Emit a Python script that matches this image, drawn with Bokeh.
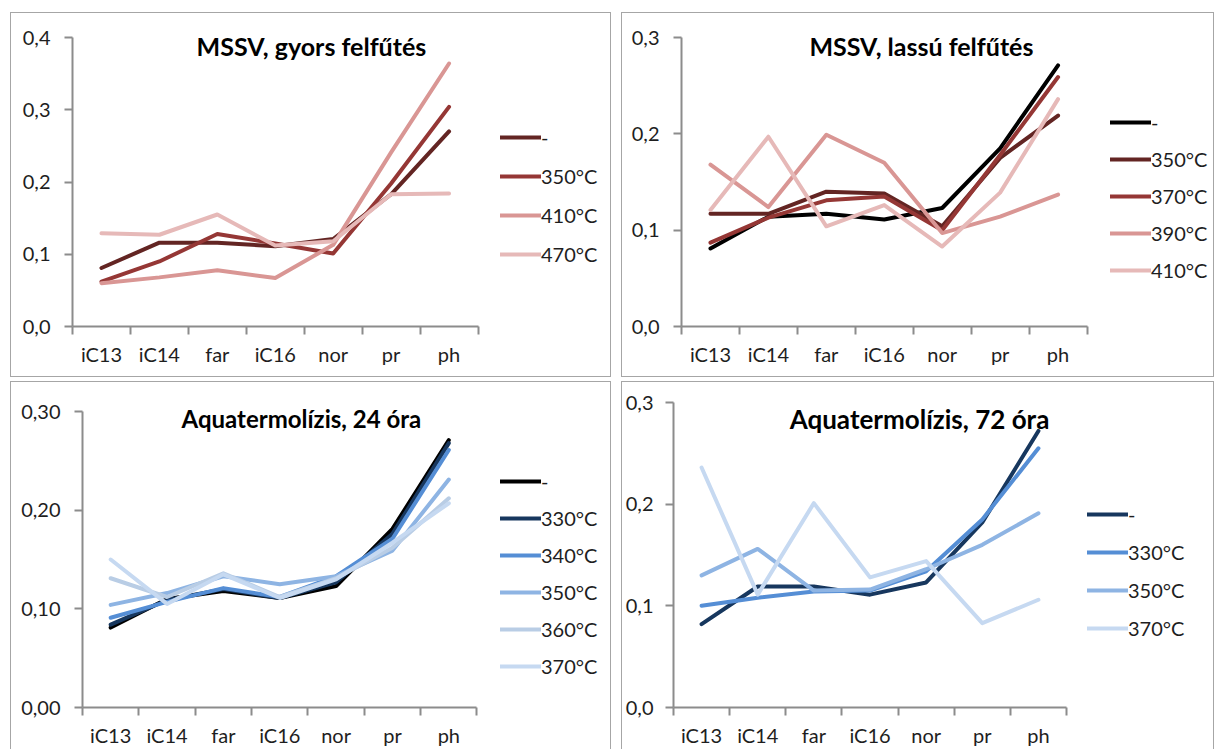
from bokeh.plotting import figure
from bokeh.models import (FixedTicker, Label, Legend, LegendItem, Spacer)
from bokeh.layouts import column, row
from bokeh.embed import file_html
from bokeh.resources import INLINE

# --- data -------------------------------------------------------------
categories = ["iC13", "iC14", "far", "iC16", "nor", "pr", "ph"]

gyors_names = ["-", "350°C", "410°C", "470°C"]
gyors_ref = [0.081, 0.116, 0.116, 0.111, 0.121, 0.183, 0.270]
gyors_350 = [0.062, 0.090, 0.128, 0.115, 0.101, 0.198, 0.304]
gyors_410 = [0.060, 0.068, 0.078, 0.067, 0.113, 0.241, 0.364]
gyors_470 = [0.129, 0.127, 0.155, 0.112, 0.118, 0.183, 0.184]

lassu_names = ["-", "350°C", "370°C", "390°C", "410°C"]
lassu_ref = [0.081, 0.114, 0.117, 0.111, 0.123, 0.185, 0.271]
lassu_350 = [0.117, 0.117, 0.140, 0.138, 0.104, 0.175, 0.219]
lassu_370 = [0.087, 0.113, 0.131, 0.135, 0.100, 0.178, 0.259]
lassu_390 = [0.168, 0.124, 0.199, 0.170, 0.097, 0.114, 0.137]
lassu_410 = [0.121, 0.197, 0.104, 0.126, 0.083, 0.139, 0.236]

aq24_names = ["-", "330°C", "340°C", "350°C", "360°C", "370°C"]
aq24_ref = [0.081, 0.110, 0.118, 0.111, 0.123, 0.181, 0.271]
aq24_330 = [0.084, 0.109, 0.120, 0.111, 0.127, 0.176, 0.268]
aq24_340 = [0.091, 0.107, 0.121, 0.112, 0.133, 0.171, 0.261]
aq24_350 = [0.104, 0.116, 0.133, 0.125, 0.133, 0.159, 0.231]
aq24_360 = [0.131, 0.112, 0.136, 0.112, 0.131, 0.162, 0.212]
aq24_370 = [0.150, 0.105, 0.135, 0.111, 0.130, 0.167, 0.207]

aq72_names = ["-", "330°C", "350°C", "370°C"]
aq72_ref = [0.082, 0.119, 0.119, 0.111, 0.123, 0.182, 0.272]
aq72_330 = [0.100, 0.108, 0.114, 0.115, 0.134, 0.185, 0.255]
aq72_350 = [0.130, 0.156, 0.115, 0.116, 0.136, 0.160, 0.191]
aq72_370 = [0.236, 0.111, 0.201, 0.128, 0.144, 0.083, 0.106]

ticks_4 = [0.0, 0.1, 0.2, 0.3, 0.4]
ticks_4_labels = ["0,0", "0,1", "0,2", "0,3", "0,4"]
ticks_3 = [0.0, 0.1, 0.2, 0.3]
ticks_3_labels = ["0,0", "0,1", "0,2", "0,3"]
ticks_3_labels_2dp = ["0,00", "0,10", "0,20", "0,30"]

# --- styling ----------------------------------------------------------
FONT = "Lato"
TEXT = "#1e1e1e"
AXIS = "#8c8c8c"
BORDER = "1px solid #a6a6a6"
FULL = {"border": BORDER}
OPEN_BOTTOM = {"border-top": BORDER, "border-left": BORDER,
               "border-right": BORDER}

reds = ["#632523", "#953735", "#d99694", "#e6b9b8"]
reds_k = ["#000000", "#632523", "#953735", "#d99694", "#e6b9b8"]
blues_k = ["#000000", "#17375e", "#558ed5", "#8eb4e3", "#b9cde5", "#c6d9f1"]
blues_n = ["#17375e", "#558ed5", "#8eb4e3", "#c6d9f1"]


def panel(title, names, series, colors, yticks, ylabels, *, w, h, origin,
          left, axis_w, top, bottom, head, title_at, title_size, legend_dx,
          legend_y, legend_spacing, y_standoff, x_standoff, border_style):
    """One bordered chart; the plotting frame runs on to the right edge so
    the legend can sit beside the category axis."""
    n = len(categories)
    xs = [i + 0.5 for i in range(n)]
    right = 2
    ox, oy = origin
    inner_h = h - (2 if border_style is FULL else 1)
    fw = (w - 2) - left - right
    fl = ox + left
    fb = oy + inner_h - bottom
    fh = inner_h - top - bottom

    ymax = yticks[-1]
    yend = ymax * head
    xend = n * fw / axis_w

    p = figure(width=w, height=h, x_range=(0, xend), y_range=(0, yend),
               output_backend="svg", toolbar_location=None,
               min_border_left=left, min_border_right=right,
               min_border_top=top, min_border_bottom=bottom,
               background_fill_color="white", border_fill_color="white",
               outline_line_color=None, styles=border_style)
    p.grid.visible = False

    # x axis: labels centred on categories, tick marks between them
    xa = p.xaxis[0]
    xa.bounds = (0, n)
    xa.ticker = FixedTicker(ticks=xs, minor_ticks=list(range(n + 1)))
    xa.major_label_overrides = {x: c for x, c in zip(xs, categories)}
    xa.major_tick_out = 8
    xa.major_tick_in = 0
    xa.major_tick_line_color = None
    xa.minor_tick_out = 8
    xa.minor_tick_in = 0
    xa.minor_tick_line_color = AXIS
    xa.minor_tick_line_width = 2
    xa.axis_line_color = AXIS
    xa.axis_line_width = 2
    xa.major_label_standoff = x_standoff
    xa.major_label_text_font = FONT
    xa.major_label_text_font_size = "20px"
    xa.major_label_text_color = TEXT

    ya = p.yaxis[0]
    ya.bounds = (0, ymax)
    ya.ticker = FixedTicker(ticks=yticks, minor_ticks=[])
    ya.major_label_overrides = {t: s for t, s in zip(yticks, ylabels)}
    ya.major_tick_out = 8
    ya.major_tick_in = 0
    ya.major_tick_line_color = AXIS
    ya.major_tick_line_width = 2
    ya.axis_line_color = AXIS
    ya.axis_line_width = 2
    ya.major_label_standoff = y_standoff
    ya.major_label_text_font = FONT
    ya.major_label_text_font_size = "20px"
    ya.major_label_text_color = TEXT

    items = []
    for name, vals, col in zip(names, series, colors):
        r = p.line(xs, vals, line_color=col, line_width=4,
                   line_join="round", line_cap="round")
        items.append(LegendItem(label=name, renderers=[r]))

    leg = Legend(items=items, location=(axis_w + legend_dx, legend_y),
                 glyph_width=41, glyph_height=24, label_height=24,
                 label_standoff=0, spacing=legend_spacing, padding=0,
                 margin=0, border_line_color=None, background_fill_alpha=0,
                 label_text_font=FONT, label_text_font_size="20px",
                 label_text_color=TEXT)
    p.add_layout(leg)

    # heading inside the chart area, centred over the whole panel
    tx, ty = title_at
    p.add_layout(Label(x=(tx - fl) / fw * xend, y=(fb - ty) / fh * yend,
                       text=title, text_font=FONT, text_font_style="bold",
                       text_font_size=title_size, text_color="#000000",
                       text_align="center", text_baseline="middle"))
    return p


p1 = panel("MSSV, gyors felfűtés", gyors_names,
           [gyors_ref, gyors_350, gyors_410, gyors_470], reds,
           ticks_4, ticks_4_labels, w=601, h=365, origin=(11, 13),
           left=61, axis_w=404, top=24, bottom=52, head=1.0,
           title_at=(310, 45), title_size="25px", legend_dx=24, legend_y=60,
           legend_spacing=15, y_standoff=14, x_standoff=7, border_style=FULL)

p2 = panel("MSSV, lassú felfűtés", lassu_names,
           [lassu_ref, lassu_350, lassu_370, lassu_390, lassu_410], reds_k,
           ticks_3, ticks_3_labels, w=593, h=365, origin=(622, 13),
           left=59, axis_w=404, top=24, bottom=52, head=1.0,
           title_at=(920, 45), title_size="25px", legend_dx=25, legend_y=44,
           legend_spacing=13, y_standoff=14, x_standoff=7, border_style=FULL)

p3 = panel("Aquatermolízis, 24 óra", aq24_names,
           [aq24_ref, aq24_330, aq24_340, aq24_350, aq24_360, aq24_370],
           blues_k, ticks_3, ticks_3_labels_2dp, w=601, h=368,
           origin=(11, 382), left=71, axis_w=393, top=20, bottom=43,
           head=304.5 / 295.5, title_at=(300, 418), title_size="24px",
           legend_dx=25, legend_y=29, legend_spacing=13, y_standoff=14,
           x_standoff=7, border_style=OPEN_BOTTOM)

p4 = panel("Aquatermolízis, 72 óra", aq72_names,
           [aq72_ref, aq72_330, aq72_350, aq72_370], blues_n,
           ticks_3, ticks_3_labels, w=593, h=368, origin=(622, 382),
           left=49, axis_w=393, top=20, bottom=43, head=1.0,
           title_at=(917, 418), title_size="26px", legend_dx=21, legend_y=67,
           legend_spacing=14, y_standoff=12, x_standoff=7,
           border_style=OPEN_BOTTOM)

layout = column(
    Spacer(height=12),
    row(Spacer(width=10), p1, Spacer(width=10), p2),
    Spacer(height=4),
    row(Spacer(width=10), p3, Spacer(width=10), p4),
)

open("out.html", "w").write(file_html(layout, INLINE))
